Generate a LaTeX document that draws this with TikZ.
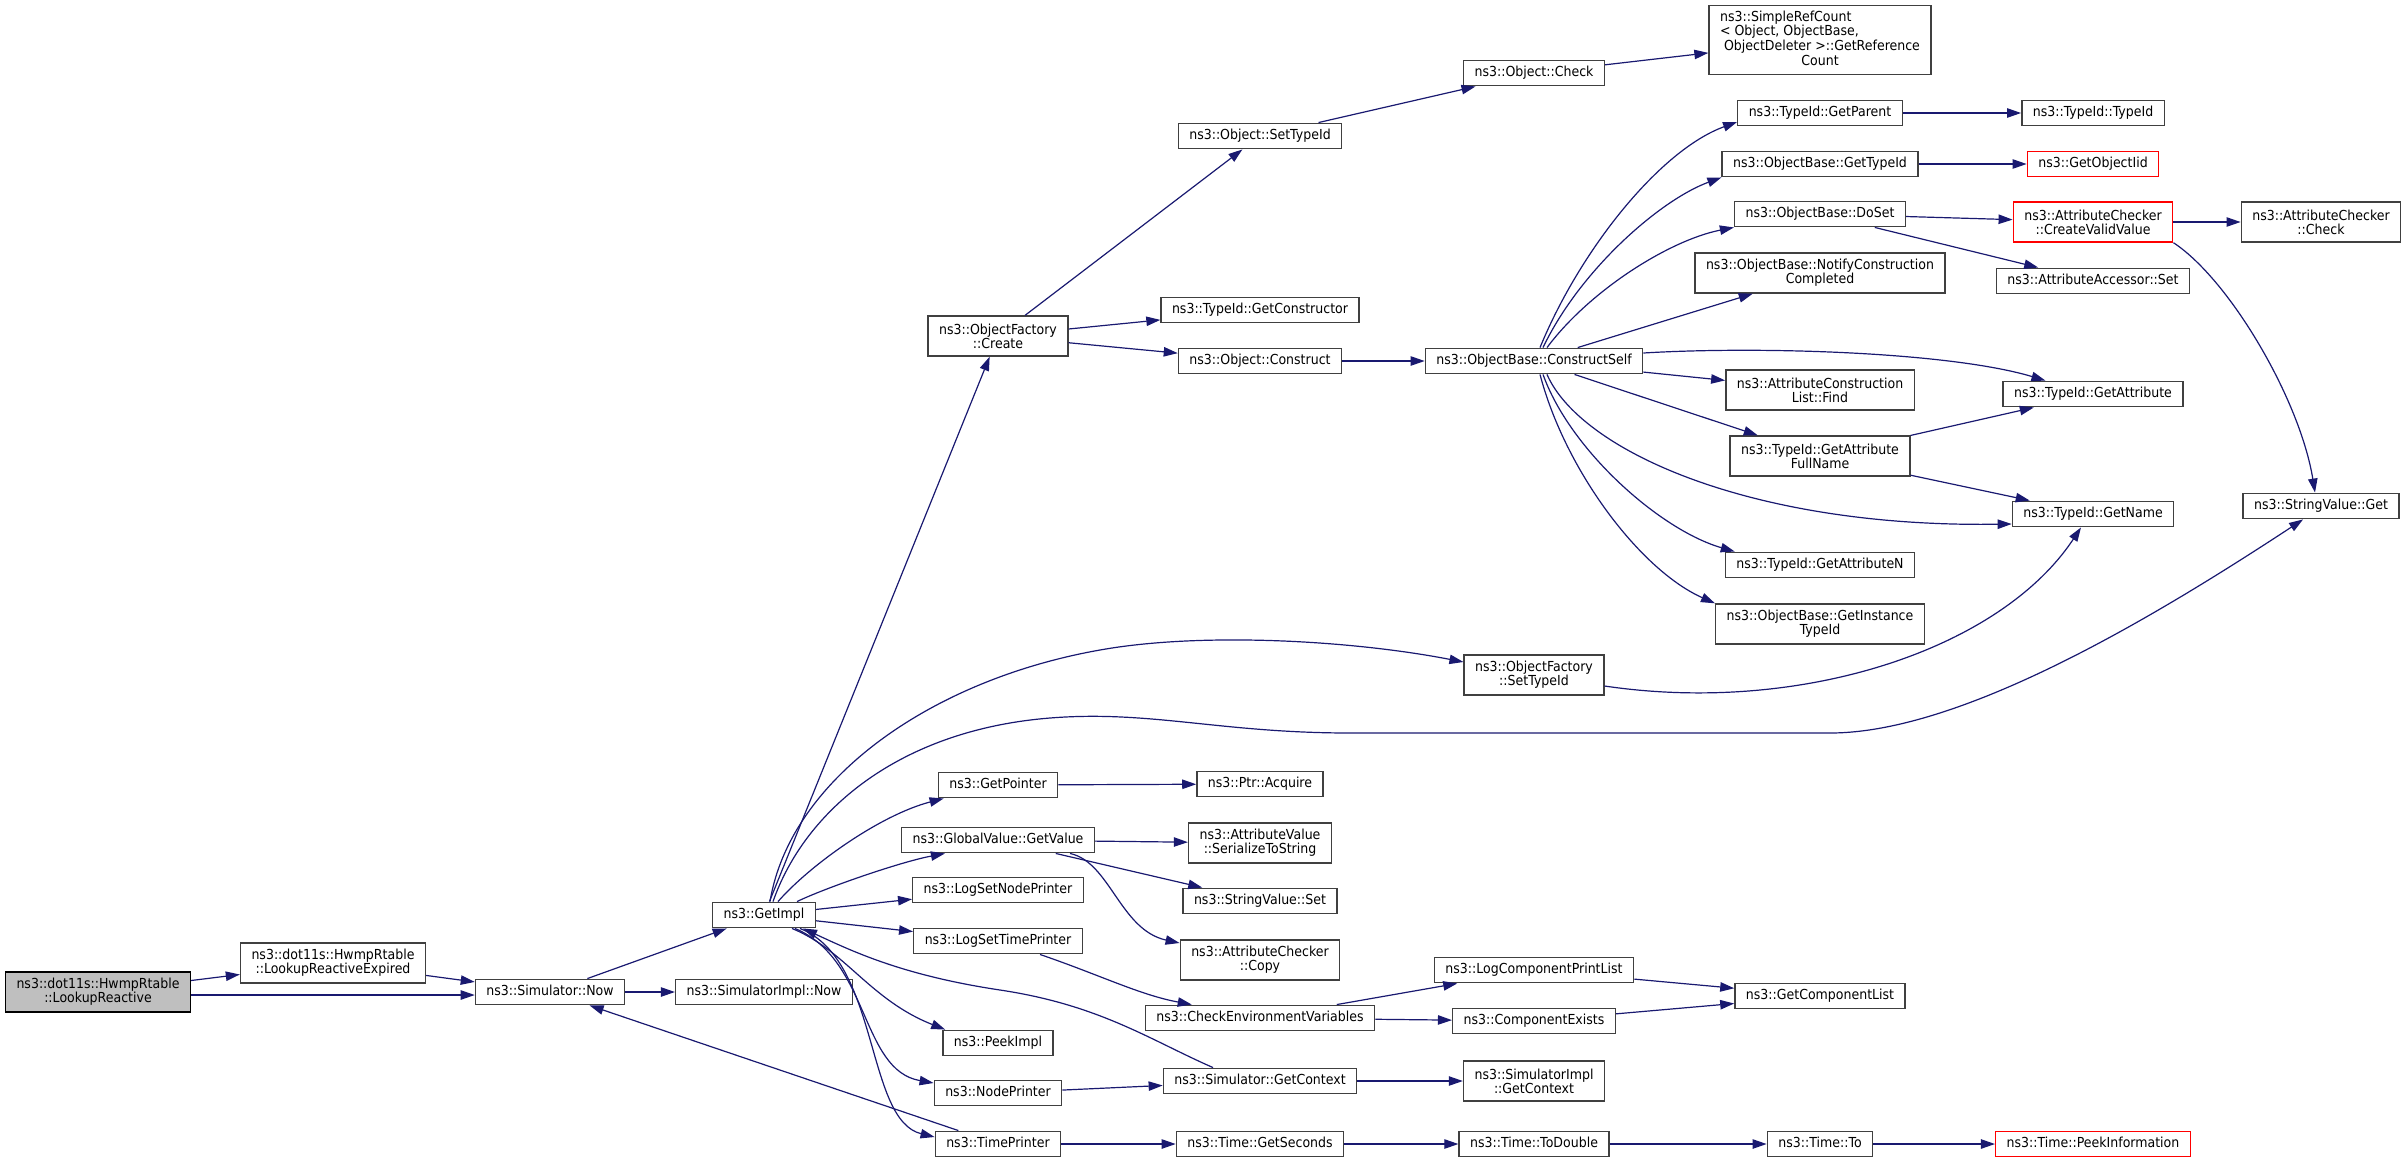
\documentclass[tikz,border=0pt]{standalone}
\usepackage{fontspec}
\newfontfamily\dxfont{DejaVu Sans}[FakeStretch=0.91]
\usetikzlibrary{arrows.meta,calc}
\definecolor{navy}{HTML}{191970}
\definecolor{leafgray}{HTML}{BFBFBF}

\begin{document}
\begin{tikzpicture}[
    x=0.5pt, y=-0.5pt,
    fnbase/.style={draw=black!75, line width=0.7pt, fill=white, inner xsep=5.5pt, inner ysep=1pt, align=center, font=\dxfont\fontsize{6.9}{7}\selectfont},
    fn/.style={fnbase, minimum height=12.75pt, text height=5.1pt, text depth=1.5pt},
    fn2/.style={fnbase, minimum height=20pt},
    redbox/.style={draw=red},
    call/.style={draw=navy, line width=0.6pt, -{Triangle[length=7pt,width=4.7pt]}}
]
\useasboundingbox (0,0) rectangle (2408,1163);

% Start of the graph
\node[fn2, fill=leafgray, draw=black] (lr) at (98,992) {ns3::dot11s::HwmpRtable\\::LookupReactive};
\node[fn2] (lre) at (333,963) {ns3::dot11s::HwmpRtable\\::LookupReactiveExpired};
\node[fn] (simnow) at (550,992) {ns3::Simulator::Now};
\node[fn] (simimplnow) at (764,992) {ns3::SimulatorImpl::Now};
\node[fn] (getimpl) at (764,915) {ns3::GetImpl};

% Callees of GetImpl
\node[fn2] (ofcreate) at (998,336) {ns3::ObjectFactory\\::Create};
\node[fn] (getptr) at (998,785) {ns3::GetPointer};
\node[fn] (gvget) at (998,840) {ns3::GlobalValue::GetValue};
\node[fn] (lsnp) at (998,890) {ns3::LogSetNodePrinter};
\node[fn] (lstp) at (998,941) {ns3::LogSetTimePrinter};
\node[fn] (peek) at (998,1043) {ns3::PeekImpl};
\node[fn] (nodepr) at (998,1093) {ns3::NodePrinter};
\node[fn] (timepr) at (998,1144) {ns3::TimePrinter};

% Next column
\node[fn] (osettid) at (1260,136) {ns3::Object::SetTypeId};
\node[fn] (tidgetctor) at (1260,310) {ns3::TypeId::GetConstructor};
\node[fn] (oconstr) at (1260,361) {ns3::Object::Construct};
\node[fn] (ptracq) at (1260,784) {ns3::Ptr::Acquire};
\node[fn2] (avser) at (1260,843) {ns3::AttributeValue\\::SerializeToString};
\node[fn] (svset) at (1260,901) {ns3::StringValue::Set};
\node[fn2] (accopy) at (1260,960) {ns3::AttributeChecker\\::Copy};
\node[fn] (checkenv) at (1260,1018) {ns3::CheckEnvironmentVariables};
\node[fn] (simctx) at (1260,1081) {ns3::Simulator::GetContext};
\node[fn] (getsec) at (1260,1144) {ns3::Time::GetSeconds};

\node[fn] (ocheck) at (1534,73) {ns3::Object::Check};
\node[fn] (obcs) at (1534,361) {ns3::ObjectBase::ConstructSelf};
\node[fn2] (ofsettid) at (1534,675) {ns3::ObjectFactory\\::SetTypeId};
\node[fn] (lcpl) at (1534,970) {ns3::LogComponentPrintList};
\node[fn] (compex) at (1534,1021) {ns3::ComponentExists};
\node[fn2] (simictx) at (1534,1081) {ns3::SimulatorImpl\\::GetContext};
\node[fn] (todouble) at (1534,1144) {ns3::Time::ToDouble};

\node[fnbase, minimum height=34.5pt] (srefcnt) at (1820,40) {\begin{tabular}{@{}l@{}}ns3::SimpleRefCount\\< Object, ObjectBase,\\\ ObjectDeleter >::GetReference\\\multicolumn{1}{@{}c@{}}{Count}\end{tabular}};
\node[fn] (tidpar) at (1820,113) {ns3::TypeId::GetParent};
\node[fn] (obgtid) at (1820,164) {ns3::ObjectBase::GetTypeId};
\node[fn] (obdoset) at (1820,214) {ns3::ObjectBase::DoSet};
\node[fn2] (obnotify) at (1820,273) {ns3::ObjectBase::NotifyConstruction\\Completed};
\node[fn2] (acfind) at (1820,390) {ns3::AttributeConstruction\\List::Find};
\node[fn2] (tidfull) at (1820,456) {ns3::TypeId::GetAttribute\\FullName};
\node[fn] (tidgetn) at (1820,565) {ns3::TypeId::GetAttributeN};
\node[fn2] (obinst) at (1820,624) {ns3::ObjectBase::GetInstance\\TypeId};
\node[fn] (getcl) at (1820,996) {ns3::GetComponentList};
\node[fn] (timeto) at (1820,1144) {ns3::Time::To};

\node[fn] (tidtid) at (2093,113) {ns3::TypeId::TypeId};
\node[fn, redbox] (getoiid) at (2093,164) {ns3::GetObjectIid};
\node[fn2, redbox] (accreate) at (2093,222) {ns3::AttributeChecker\\::CreateValidValue};
\node[fn] (acaccset) at (2093,281) {ns3::AttributeAccessor::Set};
\node[fn] (tidgetattr) at (2093,394) {ns3::TypeId::GetAttribute};
\node[fn] (tidname) at (2093,514) {ns3::TypeId::GetName};
\node[fn, redbox] (peekinfo) at (2093,1144) {ns3::Time::PeekInformation};

\node[fn2] (accheck) at (2321,222) {ns3::AttributeChecker\\::Check};
\node[fn] (svget) at (2321,506) {ns3::StringValue::Get};

% Straight calls
\draw[call] (lr) -- (lre);
\draw[call] ($(lr.east)+(0,3)$) -- ($(simnow.west)+(0,3)$);
\draw[call] (lre) -- (simnow);
\draw[call] (simnow) -- (getimpl);
\draw[call] (simnow) -- (simimplnow);
\draw[call] (getimpl) -- (ofcreate);
\draw[call] (getimpl) -- (lsnp);
\draw[call] (getimpl) -- (lstp);
\draw[call] (timepr) -- (simnow);
\draw[call] (getptr) -- (ptracq);
\draw[call] (gvget) -- (avser);
\draw[call] (gvget) -- (svset);
\draw[call] (nodepr) -- (simctx);
\draw[call] (timepr) -- (getsec);
\draw[call] (getsec) -- (todouble);
\draw[call] (todouble) -- (timeto);
\draw[call] (timeto) -- (peekinfo);
\draw[call] (checkenv) -- (lcpl);
\draw[call] (checkenv) -- (compex);
\draw[call] (lcpl) -- (getcl);
\draw[call] (compex) -- (getcl);
\draw[call] (simctx) -- (simictx);
\draw[call] (ofcreate) -- (osettid);
\draw[call] (ofcreate) -- (tidgetctor);
\draw[call] (ofcreate) -- (oconstr);
\draw[call] (osettid) -- (ocheck);
\draw[call] (ocheck) -- (srefcnt);
\draw[call] (oconstr) -- (obcs);
\draw[call] (obcs) -- (obnotify);
\draw[call] (obcs) -- (acfind);
\draw[call] (obcs) -- (tidfull);
\draw[call] (tidpar) -- (tidtid);
\draw[call] (obgtid) -- (getoiid);
\draw[call] (obdoset) -- (accreate);
\draw[call] (obdoset) -- (acaccset);
\draw[call] (accreate) -- (accheck);
\draw[call] (tidfull) -- (tidgetattr);
\draw[call] (tidfull) -- (tidname);

% Curved calls out of GetImpl
\draw[call] ($(getimpl.north)+(6,0)$) .. controls (790,780) and (930,680) .. (1100,650)
    .. controls (1200,632) and (1350,640) .. ($(ofsettid.west)+(0,-13)$);
\draw[call] ($(getimpl.north)+(9,0)$) .. controls (805,810) and (900,730) .. (1050,718)
    .. controls (1150,710) and (1220,733) .. (1350,733) -- (1830,733)
    .. controls (1960,733) and (2150,620) .. ($(svget.south)+(-18,0)$);
\draw[call] ($(getimpl.north)+(14,0)$) .. controls (810,865) and (880,815) .. ($(getptr.south west)+(6,0)$);
\draw[call] ($(getimpl.north)+(33,0)$) .. controls (825,888) and (900,862) .. ($(gvget.south west)+(44,0)$);
\draw[call] ($(getimpl.south)+(28,0)$) .. controls (845,950) and (870,1000) .. ($(peek.north west)+(3,0)$);
\draw[call] ($(getimpl.south)+(31,0)$) .. controls (870,960) and (860,1070) .. ($(nodepr.west)+(0,-10)$);
\draw[call] ($(getimpl.south)+(36,0)$) .. controls (880,960) and (865,1120) .. ($(timepr.west)+(0,-7)$);
\draw[call] ($(simctx.north)+(-47,0)$) .. controls (1150,1040) and (1100,1005) .. (1000,990)
    .. controls (900,975) and (850,950) .. ($(getimpl.south)+(39,0)$);

% Other curved calls
\draw[call] ($(gvget.south)+(72,0)$) .. controls (1110,862) and (1120,930) .. ($(accopy.west)+(0,-17)$);
\draw[call] ($(lstp.south)+(42,0)$) .. controls (1100,975) and (1140,995) .. ($(checkenv.north west)+(47,0)$);
\draw[call] ($(ofsettid.east)+(0,11)$) .. controls (1800,715) and (2000,650) .. ($(tidname.south)+(-12,0)$);
\draw[call] (accreate.south east) .. controls (2230,280) and (2300,400) .. ($(svget.north)+(-6,0)$);

% Fan out of ConstructSelf
\draw[call] ($(obcs.north)+(6,0)$) .. controls (1580,250) and (1660,150) .. ($(tidpar.west)+(0,9)$);
\draw[call] ($(obcs.north)+(9,0)$) .. controls (1580,270) and (1660,200) .. (obgtid.south west);
\draw[call] ($(obcs.north)+(13,0)$) .. controls (1590,290) and (1670,240) .. (obdoset.south west);
\draw[call] ($(obcs.east)+(0,-8)$) .. controls (1760,346) and (1950,352) .. ($(tidgetattr.north west)+(43,0)$);
\draw[call] ($(obcs.south)+(13,0)$) .. controls (1580,450) and (1750,528) .. ($(tidname.west)+(0,10)$);
\draw[call] ($(obcs.south)+(9,0)$) .. controls (1570,450) and (1660,530) .. ($(tidgetn.north west)+(10,0)$);
\draw[call] ($(obcs.south)+(6,0)$) .. controls (1565,470) and (1640,570) .. (obinst.north west);

\end{tikzpicture}
\end{document}
